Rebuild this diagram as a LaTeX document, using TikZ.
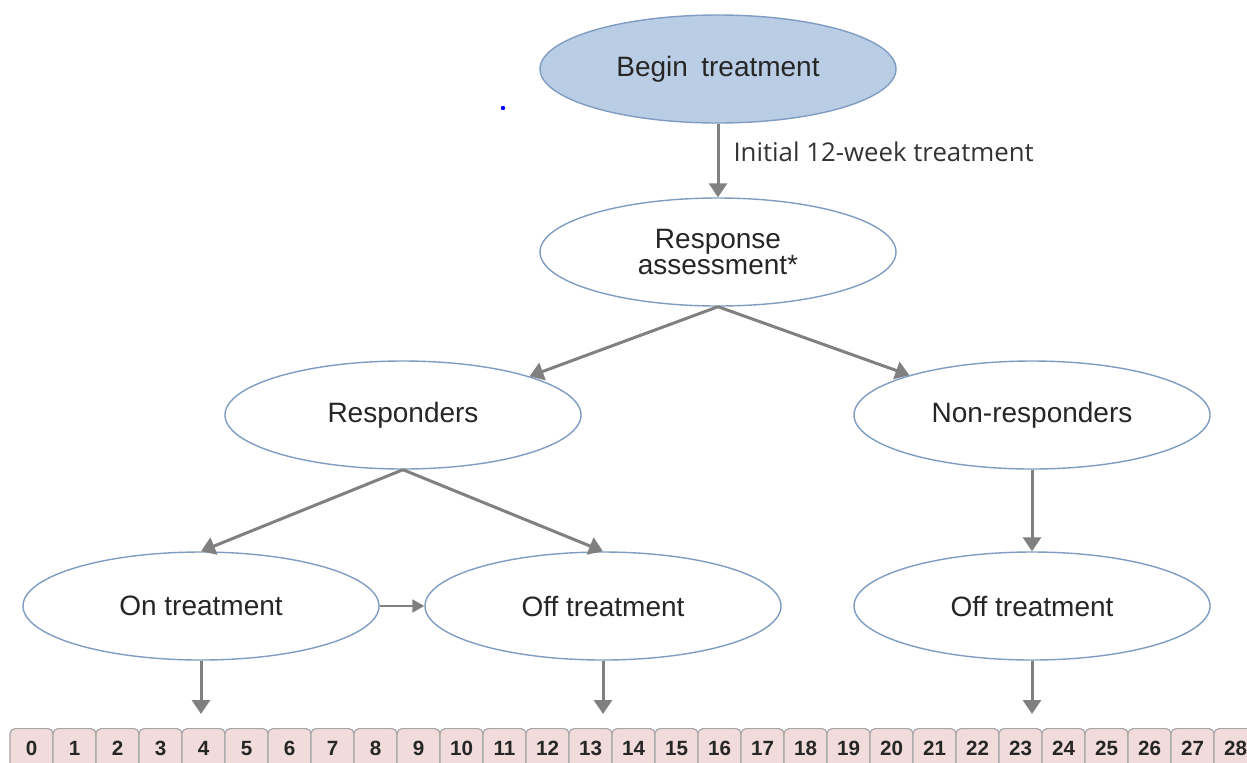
\documentclass[tikz,border=0pt]{standalone}
\usepackage{fontspec}
\setmainfont{Liberation Sans}
\newfontfamily\labfont{Open Sans}
\usetikzlibrary{shapes.geometric,arrows.meta}
\definecolor{ebord}{HTML}{7F9CC2}
\definecolor{efill}{HTML}{B9CDE5}
\definecolor{arr}{HTML}{808080}
\definecolor{cfill}{HTML}{F2DCDB}
\definecolor{cbord}{HTML}{A6A6A6}
\definecolor{txt}{HTML}{262626}
\definecolor{labtxt}{HTML}{333333}
\begin{document}
\begin{tikzpicture}[x=0.5pt,y=-0.5pt,
 ell/.style={ellipse, draw=ebord, line width=0.7pt, fill=white, minimum width=178pt, minimum height=54pt, inner sep=0pt, text=txt, font=\fontsize{14}{12}\selectfont, align=center},
 flow/.style={draw=arr, line width=1.5pt, -{Triangle[length=7pt,width=9pt]}},
 cell/.style={draw=cbord, line width=0.6pt, fill=cfill, rounded corners=2.5pt, minimum width=21.5pt, minimum height=20pt, anchor=north, inner sep=0pt, font=\fontsize{10.3}{12}\selectfont\bfseries, text=txt},
 lab/.style={anchor=west, inner sep=0pt, xshift=7pt, font=\labfont\fontsize{12.9}{14}\selectfont, text=labtxt}]
\useasboundingbox (0,0) rectangle (1247,762);
\node[ell, fill=efill] (begin) at (718,69) {Begin\hspace{0.2em} treatment};
\node[ell] (resp) at (718,252) {Response\\[-1pt]assessment*};
\node[ell] (yes) at (403,415) {Responders};
\node[ell] (no) at (1032,415) {Non-responders};
\node[ell] (on) at (201,606) {On treatment};
\node[ell] (off) at (603,606) {Off treatment};
\node[ell] (offn) at (1032,606) {Off treatment};
\foreach \i in {0,...,28} \node[cell] (c\i) at ({31.5+43*\i},728) {\i};
\fill[blue] (503,108) circle (1.1pt);
\draw[flow] (begin) -- node[lab, pos=0.38] {Initial 12-week treatment} (resp);
\draw[flow] (resp.south) -- (yes.17);
\draw[flow] (resp.south) -- (no.162);
\draw[flow] (yes.south) -- (on.north);
\draw[flow] (yes.south) -- (off.north);
\draw[flow] (no) -- (offn);
\draw[flow, line width=1pt, -{Triangle[length=6pt,width=6.5pt]}] (on) -- (off);
\draw[flow, shorten >=7pt] (on.south) -- (on.south |- c4.north);
\draw[flow, shorten >=7pt] (off.south) -- (off.south |- c13.north);
\draw[flow, shorten >=7pt] (offn.south) -- (offn.south |- c23.north);
\end{tikzpicture}
\end{document}
